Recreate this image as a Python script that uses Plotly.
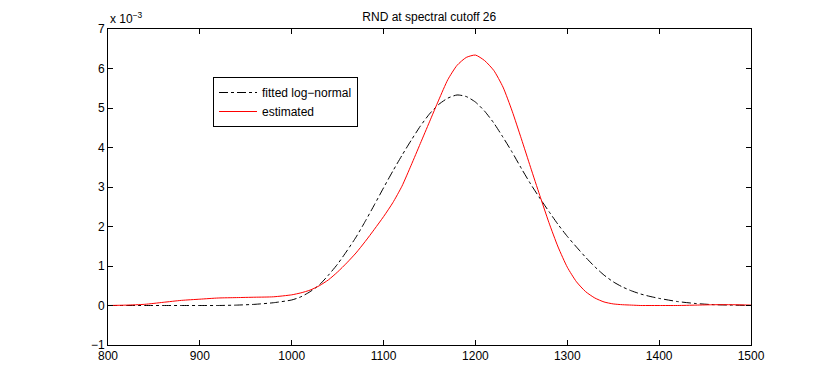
import plotly.graph_objects as go

x_vals = [800, 820, 840, 860, 880, 900, 920, 940, 960, 980,
          1000, 1010, 1020, 1030, 1040, 1050, 1060, 1070, 1080, 1090,
          1100, 1110, 1120, 1130, 1140, 1150, 1160, 1170, 1180, 1190,
          1200, 1210, 1220, 1230, 1240, 1250, 1260, 1270, 1280, 1290,
          1300, 1310, 1320, 1330, 1340, 1350, 1360, 1370, 1380, 1390,
          1400, 1420, 1440, 1460, 1480, 1500]

lognormal = [0.00, 0.00, 0.00, 0.00, 0.00, 0.00, 0.00, 0.01, 0.03, 0.07,
             0.14, 0.22, 0.35, 0.52, 0.77, 1.05, 1.38, 1.73, 2.13, 2.55,
             2.98, 3.40, 3.80, 4.18, 4.54, 4.85, 5.09, 5.25, 5.33, 5.29,
             5.15, 4.92, 4.62, 4.26, 3.88, 3.47, 3.08, 2.72, 2.38, 2.05,
             1.75, 1.48, 1.22, 0.98, 0.77, 0.60, 0.47, 0.37, 0.29, 0.23,
             0.18, 0.10, 0.05, 0.02, 0.01, 0.00]

estimated = [0.00, 0.01, 0.03, 0.08, 0.13, 0.16, 0.19, 0.20, 0.21, 0.22,
             0.27, 0.32, 0.39, 0.50, 0.65, 0.85, 1.08, 1.33, 1.62, 1.93,
             2.25, 2.60, 3.02, 3.55, 4.10, 4.65, 5.20, 5.72, 6.08, 6.28,
             6.34, 6.20, 5.95, 5.53, 4.92, 4.22, 3.50, 2.79, 2.10, 1.48,
             0.97, 0.60, 0.35, 0.19, 0.09, 0.04, 0.02, 0.01, 0.00, 0.00,
             0.00, 0.00, 0.01, 0.02, 0.02, 0.01]

x_ticks = [800, 900, 1000, 1100, 1200, 1300, 1400, 1500]
y_ticks = [-1, 0, 1, 2, 3, 4, 5, 6, 7]

font = dict(family="Liberation Sans, Arial, sans-serif", size=12, color="black")

fig = go.Figure()
fig.add_trace(go.Scatter(x=x_vals, y=lognormal, mode="lines", name="fitted log\u2212normal",
                         line=dict(color="black", width=1, dash="dashdot",
                                   shape="spline", smoothing=0.6)))
fig.add_trace(go.Scatter(x=x_vals, y=estimated, mode="lines", name="estimated",
                         line=dict(color="red", width=1, shape="spline", smoothing=0.6)))

axis_common = dict(showline=True, linecolor="black", linewidth=1, mirror="ticks",
                   ticks="inside", ticklen=5, tickcolor="black", showgrid=False,
                   zeroline=False, tickfont=font)

# page body has an 8px margin; figure sized to fit the 830x388 window
fig.update_layout(
    width=822, height=380,
    margin=dict(l=100, r=79, t=21, b=43),
    paper_bgcolor="white", plot_bgcolor="white",
    font=font,
    title=dict(text="RND at spectral cutoff 26", x=0.5125, xanchor="center",
               y=(380 - 9) / 380, yanchor="middle", font=font),
    xaxis=dict(range=[800, 1500], tickvals=x_ticks, **axis_common),
    yaxis=dict(range=[-1, 7], tickvals=y_ticks, **axis_common),
    legend=dict(x=(213 - 108) / 643, y=(345 - 77) / 316, xanchor="left", yanchor="top",
                bordercolor="black", borderwidth=1, bgcolor="white",
                font=font, tracegroupgap=0, itemwidth=38),
    showlegend=True,
    annotations=[dict(text="x 10<sup>\u22123</sup>", xref="paper", yref="paper",
                      x=0, y=1, xanchor="left", yanchor="bottom", showarrow=False,
                      font=font, yshift=1)],
)

fig.write_html("out.html")
